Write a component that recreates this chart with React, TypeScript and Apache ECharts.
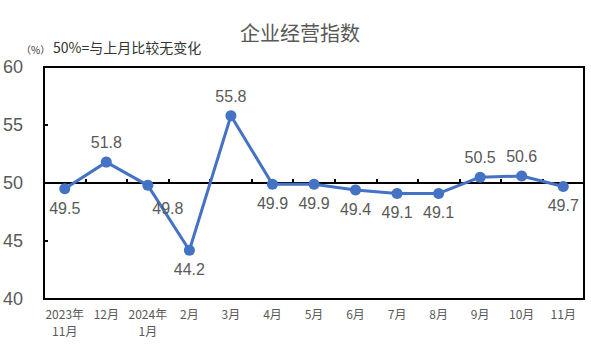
import React, { useEffect, useRef } from "react";
import * as echarts from "echarts";

const categories = ["2023年\n11月", "12月", "2024年\n1月", "2月", "3月", "4月", "5月", "6月", "7月", "8月", "9月", "10月", "11月"];
const values = [49.5, 51.8, 49.8, 44.2, 55.8, 49.9, 49.9, 49.4, 49.1, 49.1, 50.5, 50.6, 49.7];
const labelPos = ["bottom", "top", "bottom", "bottom", "top", "bottom", "bottom", "bottom", "bottom", "bottom", "top", "top", "bottom"];
const yTicks = [40, 45, 50, 55, 60];

export default function App() {
  const ref = useRef<HTMLDivElement>(null);
  useEffect(() => {
    const chart = echarts.init(ref.current!, null, { renderer: "svg" });
    chart.setOption({
      animation: false,
      textStyle: { fontFamily: "'Noto Sans CJK SC', sans-serif" },
      title: {
        text: "企业经营指数",
        left: 295,
        textAlign: "center",
        top: 17,
        textStyle: { fontSize: 20, fontWeight: "normal", color: "#595959" },
      },
      graphic: [
        {
          type: "text",
          left: 21,
          top: 44,
          style: { text: "（%）", fill: "#333", font: "10px 'Noto Sans CJK SC'" },
        },
        {
          type: "text",
          left: 53,
          top: 40,
          style: { text: "50%=与上月比较无变化", fill: "#333", font: "14px 'Noto Sans CJK SC'" },
        },
      ],
      grid: {
        left: 43,
        right: 7,
        top: 67,
        bottom: 55,
        show: true,
        borderColor: "#000",
        borderWidth: 2,
        backgroundColor: "transparent",
      },
      xAxis: [
        {
          type: "category",
          data: categories,
          axisLine: { lineStyle: { color: "#000", width: 2 }, onZero: false },
          axisTick: { show: false },
          axisLabel: { color: "#595959", fontSize: 12, margin: 6, lineHeight: 17, interval: 0 },
        },
        {
          type: "category",
          data: categories,
          position: "bottom",
          offset: -116,
          axisLine: { show: true, onZero: false, lineStyle: { color: "#000", width: 2 } },
          axisTick: { show: true, inside: true, length: 4, interval: 0, lineStyle: { color: "#000", width: 2 } },
          axisLabel: { show: false },
        },
      ],
      yAxis: [
        {
          type: "value",
          min: 40,
          max: 60,
          interval: 5,
          axisLine: { show: true, lineStyle: { color: "#000", width: 2 } },
          axisTick: { show: true, inside: true, length: 4, lineStyle: { color: "#000", width: 2 } },
          splitLine: { show: false },
          axisLabel: {
            color: "#595959",
            fontSize: 18,
            align: "left",
            margin: 41,
            fontFamily: "Liberation Sans, sans-serif",
            customValues: yTicks,
          },
        },
      ],
      series: [
        {
          type: "line",
          data: values.map((v, i) => ({
            value: v,
            label: { position: labelPos[i] as any, offset: i === 2 ? [20, 4] : [0, 0] },
          })),
          xAxisIndex: 0,
          yAxisIndex: 0,
          symbol: "circle",
          symbolSize: 11,
          itemStyle: { color: "#4472C4" },
          lineStyle: { color: "#4472C4", width: 3 },
          label: {
            show: true,
            color: "#595959",
            fontSize: 16,
            distance: 6,
            fontFamily: "Liberation Sans, sans-serif",
            formatter: (p: any) => p.value.toFixed(1),
          },
          z: 5,
        },
      ],
    });
    return () => chart.dispose();
  }, []);
  return <div ref={ref} style={{ width: 591, height: 354, position: "absolute", left: 0, top: 0 }} />;
}
